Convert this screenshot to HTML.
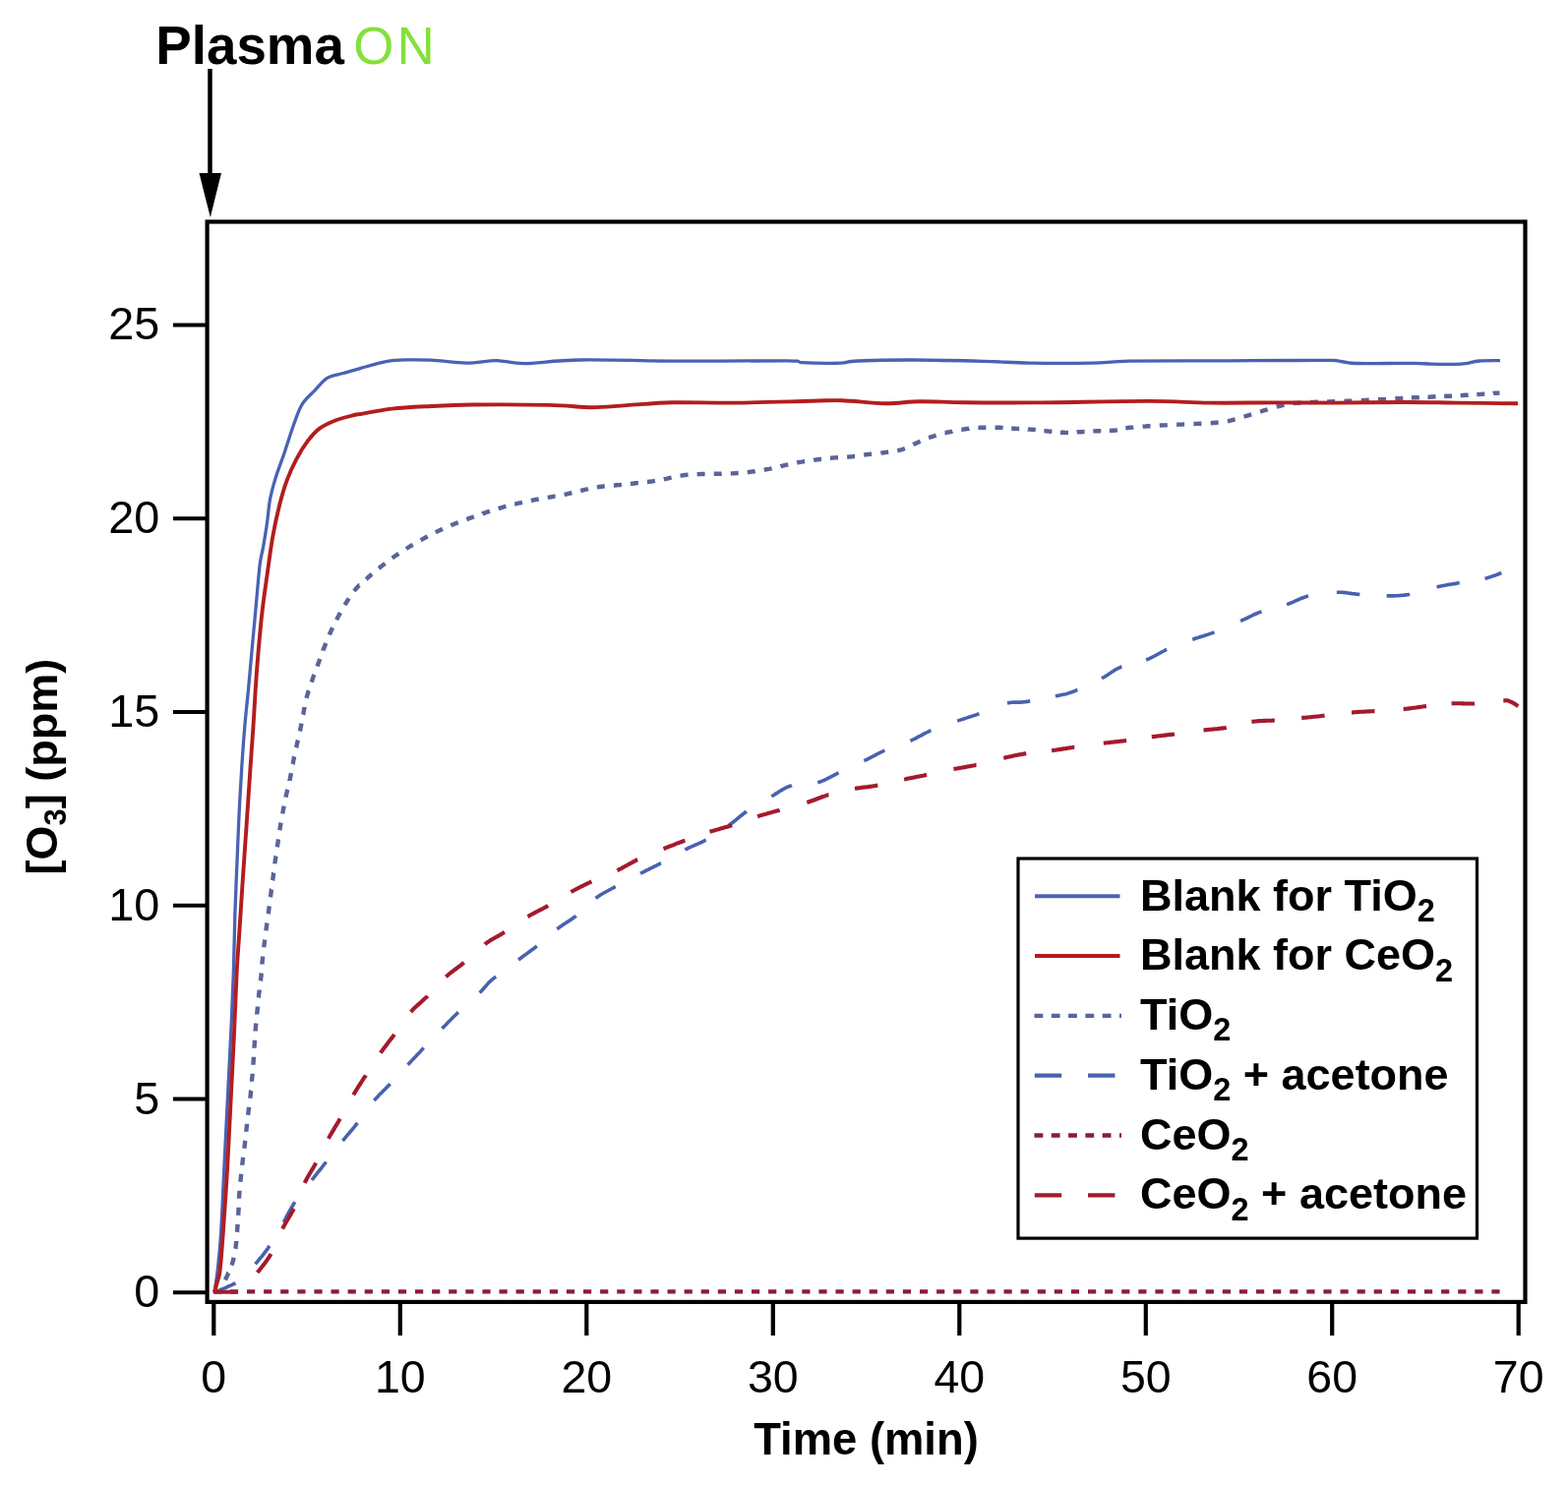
<!DOCTYPE html>
<html><head><meta charset="utf-8"><title>Ozone concentration vs time</title>
<style>html,body{margin:0;padding:0;background:#fff;}svg{display:block;}</style>
</head><body>
<svg width="1594" height="1510" viewBox="0 0 1594 1510">
<rect width="1594" height="1510" fill="#fff"/>
<text x="158.3" y="64.6" font-family="'Liberation Sans', Arial, sans-serif" font-weight="bold" font-size="54.7" fill="#000">Plasma</text>
<text x="359.2" y="65" font-family="'Liberation Sans', Arial, sans-serif" font-size="53" letter-spacing="3" fill="#84e03a">ON</text>
<line x1="213.5" y1="70" x2="213.5" y2="182" stroke="#000" stroke-width="4.5"/>
<polygon points="202.5,176 225,176 213.8,221" fill="#000"/>
<defs><clipPath id="c"><rect x="213" y="227" width="1335" height="1095"/></clipPath></defs>
<g clip-path="url(#c)" fill="none" stroke-linejoin="round">
<path d="M216.8,1313.4 L1525,1313.4" stroke="#8a1c34" stroke-width="4.3" stroke-dasharray="8.2 8.9"/>
<path d="M229.0,1301.4 L229.3,1300.8 L229.6,1300.1 L230.0,1299.3 L230.3,1298.6 L230.7,1297.8 L231.1,1297.0 L231.5,1296.2 L231.8,1295.3 L232.2,1294.4 L232.4,1294.2 M235.5,1286.5 L235.8,1285.7 L236.1,1284.7 L236.4,1283.7 L236.7,1282.7 L237.0,1281.7 L237.2,1280.7 L237.5,1279.7 L237.7,1278.8 M239.3,1269.9 L239.4,1269.6 L239.5,1268.6 L239.7,1267.6 L239.8,1266.5 L239.9,1265.4 L240.1,1264.4 L240.2,1263.3 L240.3,1262.2 L240.3,1261.9 M241.0,1252.9 L241.1,1252.2 L241.1,1251.1 L241.2,1250.1 L241.3,1249.0 L241.4,1247.9 L241.5,1246.9 L241.5,1245.9 L241.6,1244.9 M242.2,1235.8 L242.2,1235.7 L242.3,1234.7 L242.3,1233.7 L242.4,1232.6 L242.5,1231.5 L242.5,1230.5 L242.6,1229.4 L242.6,1228.3 L242.6,1227.8 M243.0,1218.7 L243.0,1218.3 L243.1,1217.2 L243.1,1216.1 L243.2,1215.1 L243.3,1214.1 L243.3,1213.1 L243.4,1212.1 L243.5,1211.2 L243.5,1210.8 M244.4,1201.7 L244.5,1200.8 L244.6,1199.8 L244.7,1198.8 L244.8,1197.7 L244.9,1196.7 L245.0,1195.6 L245.1,1194.5 L245.2,1193.7 M246.2,1184.7 L246.2,1184.5 L246.4,1183.4 L246.5,1182.3 L246.6,1181.2 L246.8,1180.1 L246.9,1179.0 L247.0,1177.9 L247.2,1176.8 L247.2,1176.8 M248.3,1167.7 L248.4,1167.0 L248.6,1165.9 L248.7,1164.8 L248.8,1163.7 L249.0,1162.6 L249.1,1161.5 L249.2,1160.4 L249.3,1159.8 M250.2,1150.7 L250.2,1150.6 L250.4,1149.5 L250.5,1148.4 L250.6,1147.3 L250.7,1146.2 L250.8,1145.1 L251.0,1144.0 L251.1,1142.9 L251.1,1142.8 M252.1,1133.8 L252.2,1133.2 L252.3,1132.1 L252.5,1131.0 L252.6,1129.9 L252.7,1128.8 L252.9,1127.7 L253.0,1126.6 L253.1,1125.8 M254.3,1116.8 L254.3,1116.8 L254.4,1115.7 L254.6,1114.6 L254.7,1113.5 L254.8,1112.4 L254.9,1111.3 L255.0,1110.2 L255.1,1109.1 L255.2,1108.8 M256.0,1099.8 L256.0,1099.1 L256.1,1098.0 L256.2,1097.0 L256.3,1095.9 L256.4,1094.9 L256.5,1093.9 L256.6,1092.9 L256.7,1091.9 L256.7,1091.8 M257.4,1082.7 L257.4,1082.6 L257.5,1081.6 L257.5,1080.6 L257.6,1079.6 L257.7,1078.6 L257.7,1077.5 L257.8,1076.5 L257.9,1075.4 L257.9,1074.8 M258.5,1065.7 L258.5,1065.4 L258.6,1064.3 L258.6,1063.2 L258.7,1062.1 L258.8,1061.0 L258.8,1059.9 L258.9,1058.8 L259.0,1057.7 L259.0,1057.7 M259.6,1048.6 L259.6,1047.8 L259.7,1046.7 L259.8,1045.7 L259.9,1044.6 L260.0,1043.5 L260.1,1042.5 L260.2,1041.5 L260.3,1040.6 M261.2,1031.5 L261.2,1031.3 L261.3,1030.2 L261.4,1029.2 L261.5,1028.2 L261.6,1027.2 L261.7,1026.2 L261.8,1025.2 L261.9,1024.2 L261.9,1023.6 M262.8,1014.5 L262.9,1014.1 L263.0,1013.0 L263.1,1011.9 L263.2,1010.8 L263.4,1009.6 L263.5,1008.4 L263.7,1007.1 L263.7,1006.5 M264.9,997.4 L265.0,997.0 L265.1,995.8 L265.2,994.6 L265.4,993.4 L265.5,992.2 L265.6,991.1 L265.7,989.9 L265.8,989.5 M266.5,980.4 L266.5,979.4 L266.6,978.4 L266.7,977.3 L266.8,976.3 L266.9,975.3 L267.0,974.3 L267.1,973.3 L267.2,972.4 M268.2,963.3 L268.3,962.4 L268.5,961.4 L268.6,960.4 L268.7,959.4 L268.8,958.4 L269.0,957.3 L269.1,956.3 L269.2,955.4 M270.4,946.3 L270.5,945.7 L270.6,944.6 L270.8,943.6 L270.9,942.5 L271.0,941.4 L271.2,940.4 L271.3,939.3 L271.5,938.4 M272.7,929.3 L272.8,928.8 L272.9,927.7 L273.1,926.7 L273.2,925.6 L273.3,924.5 L273.5,923.5 L273.6,922.4 L273.8,921.4 M274.9,912.3 L275.0,911.9 L275.1,910.8 L275.3,909.8 L275.4,908.7 L275.5,907.6 L275.7,906.6 L275.8,905.5 L275.9,904.5 L276.0,904.4 M277.1,895.3 L277.2,895.0 L277.3,893.9 L277.5,892.9 L277.6,891.8 L277.7,890.7 L277.9,889.7 L278.0,888.6 L278.1,887.6 L278.2,887.4 M279.4,878.3 L279.4,878.2 L279.5,877.1 L279.7,876.1 L279.8,875.0 L279.9,873.9 L280.1,872.9 L280.3,871.8 L280.4,870.8 L280.5,870.4 M281.8,861.3 L281.8,861.3 L282.0,860.2 L282.1,859.2 L282.3,858.1 L282.5,857.0 L282.6,856.0 L282.8,854.9 L282.9,853.9 L283.0,853.4 M284.3,844.3 L284.5,843.3 L284.6,842.3 L284.8,841.2 L285.0,840.1 L285.1,839.1 L285.3,838.0 L285.5,837.0 L285.6,836.5 M287.2,827.4 L287.4,826.4 L287.6,825.4 L287.8,824.3 L288.0,823.2 L288.2,822.2 L288.4,821.1 L288.6,820.1 L288.7,819.6 M290.5,810.6 L290.5,810.5 L290.8,809.5 L291.0,808.4 L291.2,807.4 L291.4,806.4 L291.7,805.4 L291.9,804.4 L292.1,803.4 L292.3,802.8 M294.4,793.9 L294.4,793.6 L294.7,792.5 L294.9,791.5 L295.1,790.4 L295.3,789.3 L295.6,788.2 L295.8,787.1 L296.0,786.1 M297.6,777.1 L297.7,776.9 L297.9,775.8 L298.1,774.7 L298.3,773.6 L298.5,772.6 L298.7,771.5 L298.9,770.5 L299.1,769.5 L299.2,769.2 M301.1,760.3 L301.3,759.7 L301.5,758.7 L301.7,757.7 L301.9,756.7 L302.1,755.7 L302.4,754.7 L302.6,753.7 L302.8,752.8 L302.9,752.5 M304.9,743.6 L305.1,742.7 L305.3,741.7 L305.5,740.6 L305.7,739.6 L305.9,738.5 L306.2,737.4 L306.4,736.3 L306.5,735.7 M308.1,726.7 L308.3,726.1 L308.5,725.0 L308.7,723.9 L308.9,722.8 L309.1,721.7 L309.3,720.7 L309.5,719.7 L309.6,718.9 M311.5,709.9 L311.8,708.8 L312.2,707.4 L312.6,706.0 L313.1,704.5 L313.5,702.9 L313.8,702.2 M316.7,693.6 L317.1,692.4 L317.8,690.5 L318.4,688.6 L319.1,686.7 L319.4,686.1 M322.5,677.5 L322.6,677.2 L323.3,675.3 L324.0,673.4 L324.7,671.4 L325.2,670.0 M328.4,661.5 L328.4,661.4 L329.2,659.4 L330.0,657.4 L330.7,655.4 L331.3,654.0 M334.8,645.6 L335.2,644.5 L336.0,642.9 L336.7,641.2 L337.4,639.7 L338.1,638.3 M342.1,630.2 L342.6,629.3 L343.3,627.9 L344.1,626.5 L344.8,625.1 L345.6,623.7 L345.9,623.1 M350.5,615.2 L350.5,615.2 L351.4,613.7 L352.3,612.3 L353.1,611.0 L354.0,609.6 L354.7,608.5 M360.0,601.0 L360.0,601.0 L360.8,600.0 L361.6,599.0 L362.3,598.2 L363.1,597.3 L363.8,596.6 L364.5,595.8 L365.2,595.1 L365.3,595.1 M372.1,589.0 L372.9,588.3 L374.0,587.3 L375.2,586.3 L376.4,585.2 L377.7,584.1 L378.1,583.8 M385.1,577.9 L386.0,577.2 L387.4,576.0 L388.9,574.9 L390.4,573.7 L391.4,572.9 M398.7,567.5 L399.0,567.3 L400.4,566.3 L401.8,565.3 L403.2,564.3 L404.7,563.3 L405.3,562.9 M412.9,558.0 L413.7,557.5 L415.3,556.5 L416.9,555.5 L418.6,554.5 L419.7,553.8 M427.6,549.3 L429.3,548.4 L431.2,547.3 L433.1,546.3 L434.7,545.5 M442.8,541.3 L444.6,540.4 L446.5,539.5 L448.4,538.6 L450.0,537.9 M458.3,534.3 L459.4,533.8 L461.3,533.1 L463.1,532.3 L464.9,531.6 L465.8,531.3 M474.3,528.1 L474.3,528.1 L476.2,527.4 L478.2,526.7 L480.2,526.0 L481.8,525.4 M490.4,522.4 L490.5,522.3 L492.6,521.6 L494.7,520.9 L496.8,520.2 L498.0,519.8 M506.7,517.1 L507.3,516.9 L509.4,516.3 L511.4,515.7 L513.4,515.1 L514.4,514.9 M523.2,512.6 L523.3,512.6 L525.2,512.2 L527.2,511.7 L529.1,511.3 L531.0,510.9 M539.9,509.0 L540.7,508.8 L542.7,508.4 L544.7,508.0 L546.6,507.6 L547.7,507.4 M556.7,505.9 L558.4,505.6 L560.4,505.3 L562.3,504.9 L564.3,504.6 L564.6,504.6 M573.6,502.9 L574.1,502.8 L576.1,502.4 L578.0,501.9 L580.0,501.5 L581.4,501.2 M590.2,499.0 L591.8,498.6 L593.7,498.1 L595.7,497.6 L597.7,497.2 L598.0,497.1 M606.9,495.4 L607.5,495.3 L609.4,495.0 L611.4,494.8 L613.3,494.5 L614.8,494.4 M623.9,493.6 L625.1,493.5 L627.0,493.3 L629.0,493.1 L630.9,493.0 L631.9,492.9 M640.9,491.9 L642.7,491.8 L644.6,491.5 L646.6,491.3 L648.6,491.1 L648.9,491.1 M657.9,490.0 L658.4,490.0 L660.3,489.7 L662.3,489.5 L664.3,489.2 L665.9,488.9 M674.8,487.4 L675.7,487.2 L677.5,486.8 L679.3,486.3 L681.1,485.9 L682.6,485.6 M691.5,483.8 L692.7,483.6 L694.9,483.2 L697.2,482.9 L699.5,482.7 M708.6,482.2 L710.6,482.1 L713.7,482.0 L716.6,482.0 M725.7,481.8 L726.3,481.8 L729.4,481.8 L732.5,481.8 L733.7,481.7 M742.8,481.5 L744.1,481.4 L746.6,481.3 L749.0,481.1 L750.7,481.0 M759.8,480.2 L761.4,480.0 L763.3,479.7 L765.1,479.5 L766.9,479.3 L767.7,479.1 M776.7,477.7 L778.0,477.5 L780.0,477.1 L781.9,476.8 L783.9,476.4 L784.6,476.2 M793.5,474.2 L793.7,474.1 L795.7,473.6 L797.6,473.1 L799.6,472.7 L801.2,472.3 M810.2,470.5 L811.4,470.2 L813.4,469.9 L815.4,469.6 L817.4,469.2 L818.1,469.1 M827.1,467.8 L827.5,467.7 L829.5,467.5 L831.4,467.2 L833.4,467.0 L835.0,466.8 M844.0,465.8 L844.1,465.8 L845.8,465.6 L847.5,465.5 L849.1,465.4 L850.7,465.3 L852.0,465.2 M861.1,464.7 L862.5,464.6 L863.8,464.5 L865.1,464.4 L866.4,464.3 L867.6,464.1 L868.7,464.0 L869.1,464.0 M878.2,462.6 L878.9,462.5 L879.9,462.4 L881.0,462.2 L882.0,462.1 L883.1,462.0 L884.1,461.8 L885.2,461.7 L886.1,461.6 M895.3,460.7 L895.7,460.6 L896.8,460.5 L897.8,460.3 L898.9,460.2 L900.0,460.1 L901.0,459.9 L902.1,459.8 L903.2,459.7 L903.2,459.7 M912.3,458.3 L912.8,458.2 L913.8,458.0 L914.9,457.7 L915.9,457.4 L916.9,457.1 L918.0,456.7 L919.0,456.3 L919.9,456.0 M928.3,452.1 L929.0,451.7 L930.0,451.3 L930.9,450.8 L931.9,450.4 L932.9,450.0 L933.8,449.6 L934.7,449.2 L935.6,448.8 M944.0,445.2 L944.9,444.9 L945.9,444.5 L946.9,444.2 L947.9,443.9 L948.9,443.5 L950.0,443.2 L951.0,442.9 L951.6,442.7 M960.5,440.3 L960.7,440.3 L961.8,440.0 L962.8,439.7 L963.9,439.5 L965.0,439.3 L966.0,439.0 L967.1,438.8 L968.1,438.6 L968.3,438.5 M977.3,436.8 L977.6,436.8 L978.7,436.6 L979.7,436.5 L980.8,436.3 L981.9,436.2 L982.9,436.0 L984.0,435.9 L985.0,435.8 L985.3,435.7 M994.4,435.0 L994.6,435.0 L995.6,434.9 L996.7,434.8 L997.8,434.8 L998.9,434.8 L1000.0,434.7 L1001.1,434.7 L1002.2,434.7 L1002.4,434.7 M1011.6,434.7 L1012.4,434.7 L1013.5,434.7 L1014.5,434.8 L1015.6,434.8 L1016.6,434.8 L1017.7,434.9 L1018.7,434.9 L1019.6,435.0 M1028.2,435.6 L1028.6,435.6 L1029.6,435.7 L1030.6,435.7 L1031.6,435.8 L1032.6,435.9 L1033.7,435.9 L1034.7,436.0 L1035.8,436.0 L1036.2,436.0 M1044.9,436.4 L1045.3,436.5 L1046.4,436.5 L1047.5,436.6 L1048.6,436.7 L1049.7,436.8 L1050.8,436.9 L1051.9,437.0 L1052.8,437.1 M1061.4,438.1 L1062.0,438.1 L1063.1,438.3 L1064.2,438.4 L1065.3,438.5 L1066.4,438.6 L1067.5,438.7 L1068.6,438.8 L1069.4,438.9 M1078.0,439.7 L1078.1,439.7 L1079.2,439.7 L1080.2,439.8 L1081.3,439.8 L1082.3,439.9 L1083.4,439.9 L1084.5,439.9 L1085.5,439.9 L1086.0,439.9 M1094.7,439.5 L1095.1,439.4 L1096.1,439.4 L1097.2,439.3 L1098.2,439.2 L1099.3,439.2 L1100.3,439.1 L1101.3,439.0 L1102.3,439.0 L1102.6,439.0 M1111.3,438.5 L1112.3,438.4 L1113.3,438.4 L1114.3,438.3 L1115.3,438.2 L1116.3,438.2 L1117.3,438.2 L1118.4,438.1 L1119.3,438.1 M1127.9,437.9 L1128.1,437.9 L1129.2,437.9 L1130.2,437.8 L1131.3,437.8 L1132.3,437.7 L1133.3,437.6 L1134.3,437.5 L1135.1,437.4 L1135.9,437.2 M1144.3,435.3 L1145.4,435.2 L1146.7,435.0 L1148.3,434.8 L1150.0,434.6 L1151.8,434.5 L1152.3,434.4 M1161.6,433.7 L1162.3,433.6 L1164.7,433.5 L1167.1,433.3 L1169.5,433.2 M1178.8,432.6 L1180.2,432.5 L1183.0,432.4 L1185.8,432.2 L1186.8,432.1 M1196.1,431.7 L1198.6,431.6 L1202.2,431.5 L1204.1,431.4 M1213.4,431.0 L1216.7,430.9 L1220.3,430.7 L1221.4,430.7 M1230.7,430.2 L1233.2,430.0 L1236.0,429.8 L1238.5,429.6 L1238.7,429.6 M1247.9,428.3 L1248.5,428.2 L1249.7,428.0 L1250.7,427.7 L1251.8,427.4 L1252.8,427.1 L1253.9,426.8 L1255.1,426.4 L1255.6,426.3 M1264.5,423.7 L1265.2,423.5 L1267.4,422.9 L1269.8,422.1 L1272.2,421.4 M1281.1,418.6 L1282.5,418.2 L1285.0,417.4 L1287.6,416.6 L1288.7,416.2 M1297.7,413.7 L1298.7,413.4 L1300.5,413.0 L1302.0,412.6 L1303.4,412.2 L1304.7,411.9 L1305.4,411.7 M1314.6,410.2 L1315.4,410.1 L1317.1,409.9 L1319.1,409.8 L1321.3,409.6 L1322.6,409.5 M1331.8,409.0 L1332.3,409.0 L1335.4,408.9 L1338.7,408.8 L1339.8,408.8 M1349.1,408.5 L1352.6,408.4 L1356.2,408.3 L1357.1,408.3 M1366.4,408.0 L1367.0,408.0 L1370.5,407.8 L1374.0,407.7 L1374.4,407.7 M1383.7,407.2 L1384.4,407.2 L1387.9,407.0 L1391.4,406.8 L1391.7,406.8 M1401.0,406.3 L1402.0,406.2 L1405.6,406.1 L1409.0,405.9 M1418.3,405.3 L1419.9,405.3 L1423.4,405.1 L1426.3,404.9 M1434.9,404.5 L1437.7,404.3 L1441.3,404.2 L1442.9,404.1 M1451.5,403.7 L1452.5,403.7 L1456.2,403.5 L1459.5,403.3 M1468.1,402.9 L1470.7,402.8 L1474.1,402.7 L1476.1,402.6 M1484.7,402.1 L1486.9,402.0 L1489.8,401.8 L1492.7,401.7 M1501.3,401.1 L1504.0,400.9 L1506.7,400.8 L1509.2,400.6 L1509.3,400.6 M1517.9,400.0 L1518.2,399.9 L1520.0,399.8 L1521.7,399.7 L1523.2,399.6 L1524.5,399.5" stroke="#5a6499" stroke-width="4.4"/>
<path d="M218.0,1314.0 L218.9,1313.6 L220.0,1313.2 L221.3,1312.6 L222.7,1312.1 L224.3,1311.4 L225.9,1310.8 L227.7,1310.1 L229.5,1309.3 L231.3,1308.5 L233.1,1307.7 L235.0,1306.9 L236.8,1306.0 L238.5,1305.2 L239.5,1304.6 M259.5,1285.3 L260.5,1284.2 L261.4,1283.1 L262.4,1282.0 L263.3,1280.9 L264.2,1279.8 L265.1,1278.7 L266.1,1277.6 L267.0,1276.5 L267.9,1275.3 L268.8,1274.2 L269.6,1273.0 L270.5,1271.9 L271.4,1270.7 L272.3,1269.5 L273.1,1268.2 L274.0,1267.0 L274.1,1266.9 M288.3,1242.7 L288.6,1242.2 L289.4,1240.7 L290.2,1239.3 L290.9,1237.9 L291.7,1236.4 L292.5,1235.0 L293.2,1233.5 L294.0,1232.0 L294.8,1230.6 L295.6,1229.1 L296.5,1227.7 L297.3,1226.3 L298.2,1224.8 L299.1,1223.4 L299.9,1222.2 M317.0,1200.0 L317.9,1198.8 L318.8,1197.7 L319.6,1196.6 L320.4,1195.6 L321.2,1194.6 L322.0,1193.6 L322.7,1192.7 L323.5,1191.7 L324.2,1190.8 L325.0,1189.8 L325.8,1188.8 L326.6,1187.8 L327.4,1186.8 L328.2,1185.7 L329.1,1184.5 L330.1,1183.3 L331.1,1182.0 L331.5,1181.5 M348.4,1160.0 L349.4,1158.8 L350.4,1157.6 L351.3,1156.4 L352.2,1155.4 L353.1,1154.3 L354.0,1153.3 L354.8,1152.3 L355.7,1151.3 L356.6,1150.3 L357.4,1149.2 L358.3,1148.2 L359.2,1147.2 L360.0,1146.1 L361.0,1144.9 L361.9,1143.7 L362.9,1142.5 L363.4,1141.9 M380.4,1119.1 L381.4,1117.9 L382.4,1116.8 L383.4,1115.7 L384.3,1114.7 L385.2,1113.7 L386.1,1112.8 L387.1,1111.8 L388.0,1110.9 L388.9,1110.0 L389.8,1109.1 L390.7,1108.2 L391.7,1107.2 L392.6,1106.3 L393.6,1105.3 L394.6,1104.2 L395.7,1103.1 L396.6,1102.1 M414.6,1082.7 L415.7,1081.6 L416.7,1080.4 L417.7,1079.4 L418.7,1078.3 L419.7,1077.3 L420.7,1076.2 L421.6,1075.2 L422.6,1074.2 L423.5,1073.2 L424.4,1072.2 L425.4,1071.2 L426.4,1070.2 L427.4,1069.1 L428.4,1068.0 L429.4,1066.9 L430.5,1065.8 L430.7,1065.6 M449.4,1045.9 L450.5,1044.7 L451.7,1043.6 L452.8,1042.4 L453.9,1041.3 L454.9,1040.2 L456.0,1039.1 L457.1,1038.0 L458.2,1036.9 L459.3,1035.8 L460.3,1034.7 L461.4,1033.6 L462.6,1032.5 L463.7,1031.4 L464.8,1030.3 L465.9,1029.2 M487.6,1009.5 L488.1,1009.0 L489.1,1008.0 L490.0,1007.1 L490.7,1006.3 L491.4,1005.5 L492.1,1004.7 L492.7,1004.0 L493.3,1003.3 L493.9,1002.6 L494.5,1001.8 L495.1,1001.1 L495.8,1000.4 L496.5,999.6 L497.3,998.8 L498.2,997.9 L499.3,997.0 L500.4,996.0 L501.7,994.9 L503.1,993.8 L504.1,993.0 M527.0,976.0 L528.4,975.0 L529.7,974.0 L531.0,973.0 L532.2,972.1 L533.4,971.3 L534.6,970.4 L535.7,969.6 L536.8,968.8 L537.9,968.0 L539.0,967.2 L540.1,966.3 L541.2,965.5 L542.4,964.7 L543.5,963.8 L544.7,962.9 L545.8,962.0 M566.3,944.7 L567.6,943.7 L568.9,942.8 L570.1,941.9 L571.4,941.0 L572.7,940.1 L574.0,939.3 L575.3,938.4 L576.5,937.6 L577.8,936.8 L579.1,935.9 L580.4,935.1 L581.6,934.2 L582.9,933.3 L584.1,932.4 L585.4,931.5 L585.6,931.3 M605.5,913.3 L606.8,912.4 L608.1,911.5 L609.4,910.7 L610.7,909.8 L612.1,909.0 L613.4,908.2 L614.8,907.5 L616.2,906.7 L617.5,906.0 L618.9,905.2 L620.3,904.5 L621.7,903.7 L623.1,903.0 L624.6,902.2 L625.8,901.6 M651.0,888.2 L652.4,887.5 L653.8,886.8 L655.2,886.1 L656.6,885.4 L657.9,884.7 L659.3,884.1 L660.6,883.4 L662.0,882.7 L663.3,882.1 L664.6,881.4 L666.0,880.7 L667.4,880.1 L668.7,879.4 L670.1,878.7 L671.5,877.9 L672.0,877.7 M696.4,864.0 L697.8,863.3 L699.2,862.6 L700.6,861.9 L702.0,861.3 L703.4,860.7 L704.8,860.1 L706.1,859.5 L707.5,858.9 L708.9,858.3 L710.2,857.7 L711.6,857.1 L712.9,856.5 L714.3,855.8 L715.7,855.1 L717.0,854.4 L717.7,854.1 M740.4,839.6 L741.7,838.7 L743.0,837.7 L744.3,836.7 L745.5,835.8 L746.8,834.8 L748.0,833.8 L749.2,832.8 L750.5,831.8 L751.7,830.7 L752.9,829.7 L754.2,828.7 L755.4,827.8 L756.7,826.8 L758.0,825.8 L758.9,825.1 M784.3,809.8 L785.7,809.0 L787.0,808.2 L788.2,807.4 L789.5,806.6 L790.7,805.9 L791.9,805.1 L793.1,804.3 L794.3,803.6 L795.5,802.9 L796.7,802.2 L798.0,801.5 L799.2,800.9 L800.5,800.3 L801.9,799.8 L803.3,799.3 L804.7,798.8 L804.9,798.7 M831.3,795.7 L832.9,795.2 L834.4,794.7 L835.9,794.1 L837.4,793.5 L838.9,792.8 L840.3,792.2 L841.8,791.4 L843.2,790.7 L844.7,789.9 L846.1,789.2 L847.6,788.4 L849.0,787.6 L850.4,786.9 L851.9,786.1 L852.6,785.8 M878.4,773.7 L879.8,773.0 L881.2,772.3 L882.6,771.6 L883.9,770.9 L885.3,770.2 L886.6,769.5 L887.9,768.8 L889.3,768.1 L890.6,767.4 L891.9,766.7 L893.3,766.0 L894.6,765.3 L896.0,764.7 L897.4,764.0 L898.8,763.3 L899.4,763.1 M925.4,753.3 L926.9,752.7 L928.3,752.0 L929.7,751.3 L931.0,750.6 L932.4,749.9 L933.7,749.2 L935.0,748.5 L936.4,747.8 L937.7,747.1 L939.0,746.4 L940.3,745.7 L941.7,745.0 L943.1,744.3 L944.5,743.6 L945.9,742.9 L946.4,742.7 M973.2,733.1 L974.7,732.6 L976.1,732.1 L977.6,731.6 L978.9,731.2 L980.3,730.7 L981.7,730.3 L983.0,729.9 L984.4,729.4 L985.7,729.0 L987.1,728.6 L988.4,728.1 L989.8,727.6 L991.3,727.2 L992.7,726.7 L994.2,726.1 L995.5,725.7 M1024.0,715.1 L1025.4,714.8 L1026.7,714.5 L1027.9,714.3 L1029.1,714.2 L1030.2,714.1 L1031.2,714.1 L1032.3,714.0 L1033.3,714.1 L1034.3,714.1 L1035.3,714.1 L1036.4,714.1 L1037.5,714.1 L1038.7,714.0 L1040.0,713.9 L1041.3,713.8 L1042.8,713.6 L1044.4,713.4 L1046.1,713.1 L1047.3,712.9 M1072.9,707.9 L1074.4,707.6 L1075.7,707.3 L1077.0,707.1 L1078.2,706.8 L1079.3,706.6 L1080.4,706.4 L1081.4,706.1 L1082.4,705.9 L1083.4,705.7 L1084.5,705.4 L1085.5,705.1 L1086.6,704.8 L1087.7,704.4 L1089.0,704.0 L1090.3,703.5 L1091.7,703.0 L1093.2,702.4 L1094.8,701.7 L1095.4,701.5 M1120.0,689.8 L1121.4,689.0 L1122.8,688.3 L1124.0,687.5 L1125.2,686.8 L1126.3,686.0 L1127.4,685.3 L1128.5,684.6 L1129.5,683.9 L1130.6,683.1 L1131.6,682.4 L1132.7,681.8 L1133.8,681.1 L1134.9,680.4 L1136.2,679.8 L1137.4,679.2 L1138.8,678.6 L1140.2,678.0 L1140.3,678.0 M1165.1,671.0 L1166.6,670.4 L1168.1,669.8 L1169.5,669.1 L1171.0,668.4 L1172.4,667.7 L1173.8,667.0 L1175.1,666.2 L1176.5,665.5 L1177.9,664.7 L1179.2,664.0 L1180.6,663.2 L1182.0,662.5 L1183.4,661.8 L1184.8,661.0 L1186.1,660.4 M1212.2,650.3 L1213.7,649.8 L1215.1,649.3 L1216.5,648.8 L1217.9,648.4 L1219.2,647.9 L1220.6,647.5 L1222.0,647.1 L1223.3,646.7 L1224.7,646.2 L1226.1,645.8 L1227.4,645.4 L1228.8,644.9 L1230.3,644.4 L1231.7,643.9 L1233.2,643.4 L1234.5,642.9 M1261.1,631.5 L1262.5,630.9 L1263.9,630.2 L1265.3,629.6 L1266.5,629.0 L1267.8,628.4 L1269.0,627.8 L1270.2,627.2 L1271.5,626.6 L1272.7,626.0 L1273.9,625.4 L1275.1,624.8 L1276.4,624.3 L1277.7,623.7 L1279.0,623.2 L1280.4,622.6 L1281.8,622.1 L1282.5,621.9 M1308.1,614.6 L1309.6,614.1 L1311.1,613.5 L1312.5,613.0 L1313.9,612.4 L1315.2,611.8 L1316.6,611.2 L1317.9,610.6 L1319.3,610.0 L1320.6,609.4 L1322.0,608.8 L1323.3,608.3 L1324.7,607.8 L1326.2,607.2 L1327.6,606.8 L1329.1,606.3 L1330.0,606.1 M1358.9,602.2 L1360.5,602.2 L1362.0,602.2 L1363.4,602.3 L1364.8,602.4 L1366.2,602.5 L1367.5,602.6 L1368.9,602.8 L1370.2,603.0 L1371.5,603.2 L1372.9,603.4 L1374.2,603.6 L1375.6,603.8 L1377.0,603.9 L1378.4,604.1 L1379.9,604.3 L1381.5,604.4 L1382.3,604.5 M1409.7,605.9 L1411.3,605.9 L1412.8,605.9 L1414.2,605.9 L1415.6,605.9 L1417.0,605.9 L1418.3,605.8 L1419.7,605.8 L1421.0,605.7 L1422.3,605.6 L1423.7,605.5 L1425.0,605.4 L1426.4,605.3 L1427.8,605.1 L1429.2,604.9 L1430.7,604.7 L1432.3,604.4 L1433.1,604.2 M1460.6,596.9 L1462.1,596.6 L1463.5,596.3 L1464.8,596.0 L1466.1,595.7 L1467.4,595.5 L1468.6,595.3 L1469.8,595.0 L1471.0,594.8 L1472.1,594.6 L1473.3,594.4 L1474.5,594.2 L1475.8,594.0 L1477.1,593.8 L1478.4,593.6 L1479.8,593.4 L1481.3,593.1 L1482.9,592.8 L1483.7,592.7 M1509.5,588.2 L1510.9,587.9 L1512.3,587.5 L1513.6,587.1 L1514.9,586.7 L1516.2,586.3 L1517.4,585.9 L1518.6,585.5 L1519.7,585.1 L1520.8,584.7 L1521.8,584.3 L1522.7,584.0 L1523.6,583.6 L1524.4,583.3 L1525.2,583.0 L1525.8,582.8 L1526.4,582.6" stroke="#4862b0" stroke-width="3.6"/>
<path d="M218.0,1313.7 L218.4,1313.7 L218.9,1313.7 L219.5,1313.7 L220.2,1313.7 L220.9,1313.7 L221.7,1313.7 L222.5,1313.7 L223.4,1313.7 L224.2,1313.7 L225.1,1313.7 L226.0,1313.7 L226.9,1313.7 L227.7,1313.7 L228.5,1313.7 L229.3,1313.7 L230.0,1313.7 L230.7,1313.7 L231.4,1313.7 L232.0,1313.7 L232.7,1313.7 L233.4,1313.8 L234.0,1313.8 L234.7,1313.8 L235.3,1313.8 L235.9,1313.8 L236.6,1313.8 L237.2,1313.8 L237.8,1313.8 L238.3,1313.8 L238.9,1313.8 L239.5,1313.7 L240.0,1313.7 L240.5,1313.7 L241.0,1313.7 L241.4,1313.8 L241.5,1313.8 M261.7,1294.0 L262.6,1292.8 L263.5,1291.7 L264.4,1290.6 L265.3,1289.5 L266.1,1288.3 L267.0,1287.2 L267.9,1286.1 L268.8,1285.0 L269.7,1283.8 L270.5,1282.6 L271.4,1281.4 L272.2,1280.2 L273.1,1279.0 L273.9,1277.7 L274.7,1276.4 L275.5,1275.0 M287.2,1249.5 L288.0,1247.9 L288.9,1246.4 L289.7,1244.8 L290.6,1243.2 L291.5,1241.6 L292.4,1240.1 L293.4,1238.5 L294.3,1236.9 L295.2,1235.4 L296.1,1233.8 L297.0,1232.3 L297.9,1230.8 L298.7,1229.2 L298.8,1229.1 M309.7,1202.9 L310.3,1201.6 L311.0,1200.4 L311.6,1199.2 L312.2,1198.0 L312.9,1196.8 L313.6,1195.6 L314.2,1194.5 L314.9,1193.3 L315.6,1192.2 L316.3,1191.0 L317.0,1189.8 L317.7,1188.6 L318.5,1187.3 L319.2,1186.0 L320.0,1184.7 L320.7,1183.3 L321.2,1182.4 M333.8,1157.8 L334.6,1156.4 L335.3,1155.1 L336.0,1153.8 L336.8,1152.6 L337.5,1151.4 L338.2,1150.2 L338.9,1149.1 L339.6,1147.9 L340.2,1146.8 L340.9,1145.6 L341.7,1144.4 L342.4,1143.2 L343.1,1142.0 L343.9,1140.8 L344.6,1139.5 L345.4,1138.1 L345.7,1137.5 M359.3,1113.3 L360.1,1111.9 L360.9,1110.6 L361.7,1109.3 L362.4,1108.1 L363.2,1106.9 L363.9,1105.7 L364.7,1104.5 L365.4,1103.3 L366.2,1102.2 L366.9,1101.0 L367.7,1099.8 L368.4,1098.6 L369.2,1097.4 L370.0,1096.2 L370.9,1094.9 L371.7,1093.6 L371.8,1093.4 M386.8,1070.7 L387.7,1069.4 L388.7,1068.1 L389.6,1066.8 L390.5,1065.6 L391.4,1064.4 L392.4,1063.1 L393.3,1061.9 L394.2,1060.7 L395.1,1059.5 L396.0,1058.3 L397.0,1057.1 L397.9,1055.9 L398.8,1054.7 L399.8,1053.5 L400.7,1052.2 L400.9,1051.9 M417.6,1029.0 L418.7,1027.8 L419.7,1026.7 L420.8,1025.5 L421.9,1024.5 L423.0,1023.4 L424.1,1022.4 L425.3,1021.4 L426.4,1020.4 L427.5,1019.4 L428.6,1018.4 L429.8,1017.4 L430.9,1016.3 L432.0,1015.3 L433.2,1014.3 L434.3,1013.2 L434.6,1012.8 M453.3,993.3 L454.5,992.3 L455.6,991.3 L456.8,990.3 L457.9,989.4 L459.1,988.5 L460.2,987.6 L461.4,986.7 L462.6,985.8 L463.7,985.0 L464.9,984.1 L466.1,983.2 L467.3,982.3 L468.5,981.4 L469.7,980.4 L471.0,979.4 L471.8,978.8 M492.9,960.1 L493.0,960.0 L494.3,959.1 L495.5,958.2 L496.7,957.4 L498.0,956.6 L499.2,955.8 L500.4,955.1 L501.6,954.4 L502.8,953.7 L504.0,953.0 L505.2,952.4 L506.4,951.7 L507.7,951.0 L509.0,950.2 L510.2,949.5 L511.6,948.6 L512.9,947.8 L512.9,947.8 M536.5,932.1 L537.9,931.3 L539.2,930.5 L540.5,929.8 L541.8,929.1 L543.0,928.4 L544.2,927.8 L545.5,927.1 L546.7,926.5 L547.9,925.9 L549.2,925.2 L550.4,924.6 L551.7,924.0 L552.9,923.3 L554.2,922.6 L555.5,921.9 L556.9,921.1 L557.2,920.9 M580.4,907.0 L581.8,906.2 L583.2,905.5 L584.6,904.7 L585.9,904.0 L587.3,903.3 L588.6,902.6 L589.9,902.0 L591.2,901.3 L592.6,900.6 L593.9,900.0 L595.3,899.3 L596.6,898.7 L598.0,898.0 L599.4,897.3 L600.8,896.7 L601.4,896.4 M627.4,885.1 L628.9,884.4 L630.3,883.7 L631.7,883.0 L633.0,882.2 L634.4,881.5 L635.7,880.7 L637.1,880.0 L638.4,879.3 L639.7,878.5 L641.1,877.8 L642.4,877.1 L643.8,876.3 L645.1,875.6 L646.5,874.9 L647.9,874.2 L648.2,874.1 M674.5,863.1 L676.0,862.5 L677.4,861.9 L678.8,861.4 L680.1,860.8 L681.5,860.3 L682.8,859.8 L684.1,859.3 L685.4,858.8 L686.8,858.2 L688.1,857.7 L689.4,857.2 L690.8,856.7 L692.1,856.2 L693.5,855.7 L694.9,855.1 L696.4,854.6 L696.4,854.6 M721.5,845.8 L723.0,845.3 L724.5,844.9 L726.0,844.4 L727.5,844.0 L728.9,843.6 L730.4,843.2 L731.9,842.7 L733.3,842.3 L734.8,841.9 L736.2,841.5 L737.7,841.1 L739.1,840.7 L740.6,840.3 L742.1,839.8 L743.6,839.4 L744.1,839.2 M770.1,830.2 L771.5,829.7 L773.0,829.3 L774.3,828.9 L775.7,828.5 L777.0,828.1 L778.3,827.7 L779.6,827.4 L780.9,827.0 L782.2,826.6 L783.5,826.3 L784.9,825.9 L786.2,825.5 L787.6,825.1 L789.1,824.7 L790.6,824.3 L792.1,823.9 L792.7,823.7 M820.3,816.0 L821.8,815.5 L823.3,815.0 L824.7,814.5 L826.1,814.0 L827.5,813.5 L828.8,813.0 L830.1,812.5 L831.4,812.0 L832.7,811.5 L834.0,811.0 L835.3,810.5 L836.6,810.0 L838.0,809.6 L839.4,809.1 L840.8,808.6 L842.3,808.2 L842.4,808.2 M869.0,801.9 L870.5,801.6 L871.9,801.4 L873.3,801.2 L874.7,801.0 L876.0,800.8 L877.3,800.6 L878.6,800.5 L879.9,800.4 L881.1,800.2 L882.4,800.1 L883.8,799.9 L885.1,799.7 L886.5,799.5 L887.9,799.3 L889.4,799.1 L890.9,798.8 L892.3,798.5 M919.1,792.5 L920.7,792.2 L922.2,791.8 L923.8,791.5 L925.3,791.2 L926.7,790.9 L928.2,790.7 L929.6,790.4 L931.0,790.1 L932.4,789.8 L933.8,789.6 L935.3,789.3 L936.7,789.0 L938.1,788.7 L939.6,788.4 L941.1,788.1 L942.1,787.9 M969.4,782.1 L971.0,781.8 L972.6,781.5 L974.1,781.2 L975.6,780.9 L977.2,780.7 L978.7,780.4 L980.2,780.1 L981.7,779.9 L983.2,779.6 L984.7,779.3 L986.2,779.1 L987.7,778.8 L989.2,778.5 L990.8,778.2 L992.3,777.8 L992.5,777.8 M1020.2,770.8 L1021.7,770.5 L1023.2,770.1 L1024.6,769.8 L1026.0,769.5 L1027.4,769.2 L1028.8,768.9 L1030.1,768.6 L1031.5,768.3 L1032.9,768.0 L1034.2,767.7 L1035.6,767.4 L1037.0,767.2 L1038.4,766.9 L1039.8,766.7 L1041.3,766.4 L1042.8,766.2 L1043.2,766.1 M1069.1,763.2 L1070.7,763.0 L1072.2,762.8 L1073.8,762.6 L1075.3,762.3 L1076.8,762.1 L1078.3,761.9 L1079.7,761.6 L1081.2,761.4 L1082.7,761.2 L1084.2,760.9 L1085.7,760.7 L1087.3,760.4 L1088.8,760.2 L1090.4,760.0 L1092.0,759.7 L1092.3,759.7 M1121.8,755.7 L1123.4,755.5 L1124.9,755.3 L1126.3,755.2 L1127.8,755.0 L1129.1,754.8 L1130.5,754.7 L1131.9,754.5 L1133.2,754.4 L1134.6,754.3 L1135.9,754.1 L1137.2,754.0 L1138.6,753.8 L1140.0,753.6 L1141.4,753.5 L1142.9,753.3 L1144.4,753.1 L1145.1,753.0 M1170.8,749.3 L1172.4,749.1 L1173.9,748.9 L1175.4,748.7 L1176.9,748.5 L1178.4,748.3 L1179.9,748.2 L1181.4,748.0 L1182.9,747.8 L1184.4,747.6 L1185.9,747.4 L1187.4,747.3 L1188.9,747.1 L1190.4,746.9 L1192.0,746.7 L1193.6,746.5 L1194.1,746.4 M1223.5,742.5 L1225.1,742.3 L1226.6,742.1 L1228.0,742.0 L1229.4,741.8 L1230.8,741.7 L1232.2,741.6 L1233.5,741.5 L1234.9,741.3 L1236.2,741.2 L1237.5,741.1 L1238.9,740.9 L1240.2,740.8 L1241.6,740.6 L1243.0,740.4 L1244.5,740.2 L1246.0,739.9 L1246.8,739.7 M1272.4,733.9 L1274.0,733.7 L1275.5,733.5 L1277.1,733.4 L1278.6,733.2 L1280.1,733.1 L1281.6,733.0 L1283.1,733.0 L1284.6,732.9 L1286.1,732.9 L1287.6,732.8 L1289.1,732.8 L1290.6,732.7 L1292.1,732.7 L1293.7,732.6 L1295.2,732.5 L1295.8,732.5 M1323.2,730.1 L1324.8,729.9 L1326.3,729.8 L1327.9,729.6 L1329.4,729.5 L1330.9,729.3 L1332.4,729.2 L1334.0,729.0 L1335.5,728.8 L1337.0,728.7 L1338.5,728.5 L1340.0,728.4 L1341.5,728.2 L1343.0,728.0 L1344.6,727.8 L1346.1,727.7 L1346.6,727.6 M1374.0,724.5 L1375.6,724.4 L1377.1,724.2 L1378.7,724.1 L1380.2,724.0 L1381.7,723.9 L1383.2,723.8 L1384.6,723.8 L1386.1,723.7 L1387.6,723.6 L1389.1,723.5 L1390.6,723.4 L1392.2,723.4 L1393.7,723.3 L1395.3,723.2 L1396.9,723.1 L1397.5,723.1 M1426.7,721.1 L1428.3,720.9 L1429.8,720.8 L1431.2,720.6 L1432.7,720.4 L1434.1,720.2 L1435.4,720.0 L1436.8,719.8 L1438.1,719.7 L1439.5,719.5 L1440.8,719.3 L1442.2,719.1 L1443.5,718.9 L1444.9,718.7 L1446.3,718.5 L1447.8,718.3 L1449.3,718.1 L1450.0,718.0 M1475.6,715.4 L1477.2,715.3 L1478.7,715.3 L1480.3,715.3 L1481.8,715.3 L1483.3,715.3 L1484.8,715.3 L1486.2,715.4 L1487.7,715.4 L1489.2,715.5 L1490.7,715.5 L1492.2,715.5 L1493.8,715.5 L1495.3,715.5 L1496.9,715.5 L1498.5,715.5 L1499.1,715.4 M1528.3,712.4 L1529.3,712.4 L1530.2,712.3 L1531.0,712.3 L1531.6,712.3 L1532.2,712.4 L1532.6,712.4 L1533.0,712.5 L1533.3,712.5 L1533.6,712.6 L1533.9,712.7 L1534.1,712.8 L1534.4,713.0 L1534.7,713.1 L1535.0,713.3 L1535.4,713.4 L1535.8,713.6 L1536.3,713.8 L1536.8,714.0 L1537.3,714.3 L1537.9,714.6 L1538.4,714.9 L1539.0,715.2 L1539.5,715.6 L1540.1,715.9 L1540.6,716.3 L1541.1,716.6 L1541.6,716.9 L1542.0,717.2 L1542.4,717.5 L1542.8,717.7 L1543.1,717.9 L1543.4,718.1" stroke="#a41a2e" stroke-width="4.1"/>
<path d="M218.0,1314.0 C218.6,1310.0 220.3,1300.3 221.4,1290.0 C222.5,1279.7 223.6,1269.4 224.7,1252.2 C225.8,1235.0 226.8,1208.6 227.9,1186.7 C229.0,1164.8 230.1,1142.9 231.2,1121.1 C232.3,1099.2 233.5,1077.4 234.5,1055.6 C235.5,1033.8 236.6,1011.2 237.3,990.0 C238.0,968.8 238.3,947.1 238.9,928.6 C239.5,910.1 240.2,895.5 240.9,878.9 C241.6,862.3 242.2,845.8 243.0,829.2 C243.8,812.6 244.9,794.4 245.8,779.5 C246.8,764.6 247.6,753.0 248.7,739.8 C249.8,726.5 251.3,713.3 252.6,700.0 C253.8,686.7 255.0,673.3 256.2,660.0 C257.4,646.7 258.6,634.2 259.9,620.0 C261.2,605.8 262.8,585.3 264.1,574.6 C265.4,563.9 266.5,562.8 267.7,555.6 C268.9,548.5 270.4,539.7 271.5,531.7 C272.6,523.8 273.1,515.5 274.5,507.9 C275.9,500.3 277.6,494.3 280.0,486.4 C282.4,478.4 286.1,469.3 289.2,460.2 C292.3,451.1 295.7,439.6 298.7,431.5 C301.7,423.4 303.4,417.1 307.0,411.3 C310.6,405.5 315.9,401.3 320.2,396.8 C324.5,392.3 327.9,387.2 332.7,384.3 C337.5,381.4 343.4,381.1 349.0,379.5 C354.6,377.9 358.9,376.6 366.1,374.6 C373.4,372.6 384.6,369.1 392.5,367.6 C400.4,366.2 405.9,366.1 413.5,365.9 C421.1,365.7 428.0,365.7 438.1,366.2 C448.2,366.7 463.1,369.0 474.2,369.1 C485.3,369.2 495.2,366.6 505.0,366.7 C514.8,366.8 518.8,369.7 533.0,369.6 C547.2,369.5 562.2,366.4 590.0,366.0 C617.8,365.6 665.0,367.1 700.0,367.2 C735.0,367.3 780.8,366.6 800.0,366.8 C819.2,367.0 808.3,368.2 815.0,368.6 C821.7,369.0 832.8,369.3 840.0,369.3 C847.2,369.3 852.7,369.2 858.0,368.8 C863.3,368.4 860.2,367.5 872.0,367.0 C883.8,366.5 907.7,365.9 929.0,366.0 C950.3,366.1 980.4,366.8 1000.0,367.3 C1019.6,367.8 1028.2,368.9 1046.6,369.2 C1065.0,369.5 1093.6,369.5 1110.5,369.2 C1127.4,368.9 1125.0,367.6 1148.2,367.2 C1171.5,366.8 1221.4,366.9 1250.0,366.8 C1278.6,366.7 1302.7,366.6 1320.0,366.5 C1337.3,366.4 1346.1,366.1 1353.8,366.4 C1361.5,366.6 1361.9,367.5 1366.0,368.0 C1370.1,368.5 1371.0,369.2 1378.3,369.5 C1385.6,369.8 1399.9,369.5 1410.0,369.5 C1420.1,369.5 1431.2,369.2 1438.7,369.3 C1446.2,369.4 1448.2,370.0 1455.0,370.2 C1461.8,370.4 1473.6,370.5 1479.4,370.4 C1485.2,370.3 1485.9,370.2 1490.0,369.6 C1494.1,369.0 1498.1,367.5 1503.9,367.0 C1509.7,366.5 1521.5,366.7 1525.0,366.6" stroke="#4a62b4" stroke-width="3.3"/>
<path d="M218.0,1314.0 C218.4,1312.5 219.6,1308.7 220.5,1305.0 C221.4,1301.3 222.5,1300.8 223.6,1292.0 C224.7,1283.2 225.6,1269.8 226.9,1252.2 C228.2,1234.7 229.9,1208.6 231.2,1186.7 C232.5,1164.8 233.4,1142.9 234.5,1121.1 C235.6,1099.2 236.8,1077.4 237.8,1055.6 C238.8,1033.8 239.7,1007.9 240.6,990.0 C241.5,972.1 242.3,963.7 243.3,948.5 C244.3,933.3 245.3,917.0 246.5,898.8 C247.7,880.6 249.2,859.1 250.6,839.2 C251.9,819.3 253.5,796.1 254.6,779.5 C255.7,762.9 256.5,753.0 257.4,739.8 C258.3,726.5 259.0,711.6 259.8,700.0 C260.6,688.4 260.9,683.0 262.0,670.0 C263.1,657.0 264.9,636.2 266.5,622.3 C268.1,608.4 269.5,599.3 271.3,586.6 C273.1,573.9 275.0,558.3 277.2,546.0 C279.4,533.7 282.0,522.1 284.4,512.6 C286.8,503.1 288.7,496.4 291.5,488.8 C294.3,481.2 297.5,474.1 301.1,467.3 C304.7,460.5 309.0,453.5 313.0,448.2 C317.0,442.9 320.1,439.1 324.9,435.6 C329.7,432.1 335.8,429.5 341.6,427.2 C347.5,424.9 355.4,423.1 360.0,422.0 C364.6,420.9 362.4,421.7 368.9,420.6 C375.3,419.5 387.1,416.9 398.7,415.6 C410.3,414.3 424.8,413.7 438.4,413.0 C451.9,412.3 460.1,411.7 480.0,411.5 C499.9,411.3 537.7,411.4 558.0,411.9 C578.3,412.3 588.8,414.2 602.0,414.2 C615.2,414.2 623.3,412.9 637.0,412.1 C650.7,411.3 665.7,409.7 684.0,409.3 C702.3,408.9 723.5,409.9 747.0,409.6 C770.5,409.4 806.8,408.2 825.0,407.8 C843.2,407.4 843.5,406.8 856.0,407.2 C868.5,407.6 886.8,410.0 900.0,410.2 C913.2,410.4 921.7,408.4 935.0,408.2 C948.3,408.0 960.8,409.0 980.0,409.2 C999.2,409.4 1018.8,409.6 1050.0,409.4 C1081.2,409.2 1137.0,407.9 1167.0,407.9 C1197.0,407.9 1207.8,409.4 1230.0,409.6 C1252.2,409.9 1278.3,409.4 1300.0,409.4 C1321.7,409.4 1338.3,409.7 1360.0,409.6 C1381.7,409.5 1410.0,409.0 1430.0,409.0 C1450.0,409.0 1461.2,409.4 1480.0,409.6 C1498.8,409.8 1532.5,410.2 1543.0,410.3" stroke="#b41c1e" stroke-width="3.9"/>
</g>
<rect x="210.6" y="225.5" width="1339.9" height="1098.4" fill="none" stroke="#000" stroke-width="4.2"/>
<line x1="176" y1="1314.3" x2="211" y2="1314.3" stroke="#000" stroke-width="4"/>
<text x="162.4" y="1329.3" font-family="'Liberation Sans', Arial, sans-serif" font-size="46.8" text-anchor="end" fill="#000">0</text>
<line x1="176" y1="1117.5" x2="211" y2="1117.5" stroke="#000" stroke-width="4"/>
<text x="162.4" y="1132.5" font-family="'Liberation Sans', Arial, sans-serif" font-size="46.8" text-anchor="end" fill="#000">5</text>
<line x1="176" y1="920.7" x2="211" y2="920.7" stroke="#000" stroke-width="4"/>
<text x="162.4" y="935.7" font-family="'Liberation Sans', Arial, sans-serif" font-size="46.8" text-anchor="end" fill="#000">10</text>
<line x1="176" y1="724.0" x2="211" y2="724.0" stroke="#000" stroke-width="4"/>
<text x="162.4" y="739.0" font-family="'Liberation Sans', Arial, sans-serif" font-size="46.8" text-anchor="end" fill="#000">15</text>
<line x1="176" y1="527.2" x2="211" y2="527.2" stroke="#000" stroke-width="4"/>
<text x="162.4" y="542.2" font-family="'Liberation Sans', Arial, sans-serif" font-size="46.8" text-anchor="end" fill="#000">20</text>
<line x1="176" y1="330.4" x2="211" y2="330.4" stroke="#000" stroke-width="4"/>
<text x="162.4" y="345.4" font-family="'Liberation Sans', Arial, sans-serif" font-size="46.8" text-anchor="end" fill="#000">25</text>
<line x1="217.3" y1="1324" x2="217.3" y2="1358" stroke="#000" stroke-width="4.2"/>
<text x="217.3" y="1416.3" font-family="'Liberation Sans', Arial, sans-serif" font-size="46.5" text-anchor="middle" fill="#000">0</text>
<line x1="406.8" y1="1324" x2="406.8" y2="1358" stroke="#000" stroke-width="4.2"/>
<text x="406.8" y="1416.3" font-family="'Liberation Sans', Arial, sans-serif" font-size="46.5" text-anchor="middle" fill="#000">10</text>
<line x1="596.3" y1="1324" x2="596.3" y2="1358" stroke="#000" stroke-width="4.2"/>
<text x="596.3" y="1416.3" font-family="'Liberation Sans', Arial, sans-serif" font-size="46.5" text-anchor="middle" fill="#000">20</text>
<line x1="785.8" y1="1324" x2="785.8" y2="1358" stroke="#000" stroke-width="4.2"/>
<text x="785.8" y="1416.3" font-family="'Liberation Sans', Arial, sans-serif" font-size="46.5" text-anchor="middle" fill="#000">30</text>
<line x1="975.3" y1="1324" x2="975.3" y2="1358" stroke="#000" stroke-width="4.2"/>
<text x="975.3" y="1416.3" font-family="'Liberation Sans', Arial, sans-serif" font-size="46.5" text-anchor="middle" fill="#000">40</text>
<line x1="1164.8" y1="1324" x2="1164.8" y2="1358" stroke="#000" stroke-width="4.2"/>
<text x="1164.8" y="1416.3" font-family="'Liberation Sans', Arial, sans-serif" font-size="46.5" text-anchor="middle" fill="#000">50</text>
<line x1="1354.2" y1="1324" x2="1354.2" y2="1358" stroke="#000" stroke-width="4.2"/>
<text x="1354.2" y="1416.3" font-family="'Liberation Sans', Arial, sans-serif" font-size="46.5" text-anchor="middle" fill="#000">60</text>
<line x1="1543.7" y1="1324" x2="1543.7" y2="1358" stroke="#000" stroke-width="4.2"/>
<text x="1543.7" y="1416.3" font-family="'Liberation Sans', Arial, sans-serif" font-size="46.5" text-anchor="middle" fill="#000">70</text>
<text x="880.5" y="1478.8" font-family="'Liberation Sans', Arial, sans-serif" font-weight="bold" font-size="45.4" text-anchor="middle" fill="#000">Time (min)</text>
<text transform="translate(58,779.6) rotate(-90)" font-family="'Liberation Sans', Arial, sans-serif" font-weight="bold" font-size="45" text-anchor="middle" fill="#000">[O<tspan font-size="31" dy="9">3</tspan><tspan dy="-9">] (ppm)</tspan></text>
<rect x="1035" y="873" width="466.5" height="386.1" fill="#fff" stroke="#000" stroke-width="3.2"/>
<line x1="1052" y1="911.3" x2="1138.5" y2="911.3" stroke="#4a62b4" stroke-width="4"/>
<text x="1159" y="925.7" font-family="'Liberation Sans', Arial, sans-serif" font-weight="bold" font-size="45" fill="#000">Blank for TiO<tspan font-size="32.5" dy="11.2">2</tspan><tspan dy="-11.2"></tspan></text>
<line x1="1052" y1="972.1" x2="1138.5" y2="972.1" stroke="#b41c1e" stroke-width="4"/>
<text x="1159" y="986.4" font-family="'Liberation Sans', Arial, sans-serif" font-weight="bold" font-size="45" fill="#000">Blank for CeO<tspan font-size="32.5" dy="11.2">2</tspan><tspan dy="-11.2"></tspan></text>
<line x1="1051.5" y1="1032.9" x2="1140" y2="1032.9" stroke="#5a6499" stroke-width="4.4" stroke-dasharray="8.8 8.5"/>
<text x="1159" y="1047.1" font-family="'Liberation Sans', Arial, sans-serif" font-weight="bold" font-size="45" fill="#000">TiO<tspan font-size="32.5" dy="11.2">2</tspan><tspan dy="-11.2"></tspan></text>
<line x1="1051.8" y1="1093.7" x2="1134.5" y2="1093.7" stroke="#4862b0" stroke-width="4.2" stroke-dasharray="27.4 26.8"/>
<text x="1159" y="1107.9" font-family="'Liberation Sans', Arial, sans-serif" font-weight="bold" font-size="45" fill="#000">TiO<tspan font-size="32.5" dy="11.2">2</tspan><tspan dy="-11.2"> + acetone</tspan></text>
<line x1="1051.5" y1="1154.5" x2="1140" y2="1154.5" stroke="#8a1c34" stroke-width="4.4" stroke-dasharray="8.8 8.5"/>
<text x="1159" y="1168.6" font-family="'Liberation Sans', Arial, sans-serif" font-weight="bold" font-size="45" fill="#000">CeO<tspan font-size="32.5" dy="11.2">2</tspan><tspan dy="-11.2"></tspan></text>
<line x1="1051.8" y1="1215.3" x2="1134.5" y2="1215.3" stroke="#a41a2e" stroke-width="4.2" stroke-dasharray="27.4 26.8"/>
<text x="1159" y="1229.3" font-family="'Liberation Sans', Arial, sans-serif" font-weight="bold" font-size="45" fill="#000">CeO<tspan font-size="32.5" dy="11.2">2</tspan><tspan dy="-11.2"> + acetone</tspan></text>
</svg>
</body></html>
